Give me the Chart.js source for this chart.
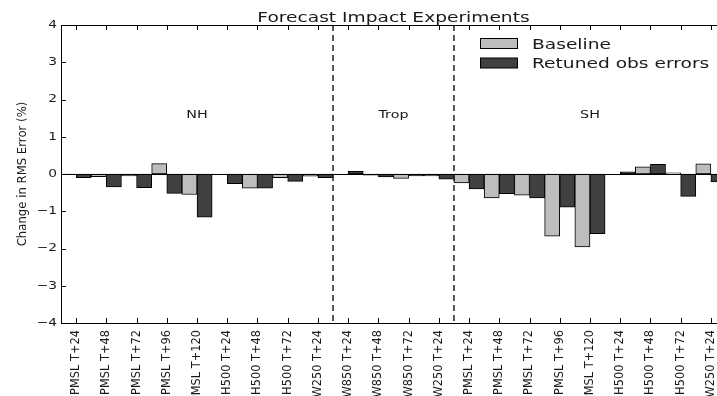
<!DOCTYPE html>
<html><head><meta charset="utf-8">
<script src="https://cdn.jsdelivr.net/npm/chart.js@4.4.0/dist/chart.umd.min.js"></script>
<style>
html,body{margin:0;padding:0;overflow:hidden;background:#fff;width:717px;height:396px}
#wrap{width:740px;height:396px;position:relative}
</style></head>
<body><div id="wrap"><canvas id="c" width="740" height="396"></canvas></div>
<script>
const categories = ['PMSL T+24','PMSL T+48','PMSL T+72','PMSL T+96','PMSL T+120','H500 T+24','H500 T+48','H500 T+72','W250 T+24',
  'W850 T+24','W850 T+48','W850 T+72','W250 T+24',
  'PMSL T+24','PMSL T+48','PMSL T+72','PMSL T+96','PMSL T+120','H500 T+24','H500 T+48','H500 T+72','W250 T+24'];
const baseline = [-0.02,-0.07,-0.05,0.28,-0.55,-0.01,-0.38,-0.10,-0.06,
  -0.01,-0.03,-0.12,-0.05,
  -0.24,-0.64,-0.57,-1.67,-1.96,0.00,0.19,0.03,0.27];
const retuned = [-0.10,-0.35,-0.37,-0.52,-1.16,-0.26,-0.38,-0.20,-0.10,
  0.07,-0.08,-0.05,-0.14,
  -0.40,-0.53,-0.64,-0.89,-1.60,0.06,0.26,-0.60,-0.21];
const seriesNames = ['Baseline','Retuned obs errors'];
const yMin = -4, yMax = 4, yStep = 1;
const regionLabels = ['NH','Trop','SH'];
const regionAt = [[4],[10,11],[17]];
const regionY = 1.5;
const dividers = [[8,9],[12,13]];
const titleText = 'Forecast Impact Experiments';
const yTitle = 'Change in RMS Error (%)';

const LIGHT = '#bdbdbd', DARK = '#404040', INK = '#1a1a1a';
const FONT = '"DejaVu Sans", sans-serif';

function sText(ctx, text, x, y, align, sx, size){
  ctx.save();
  ctx.font = size + 'px ' + FONT;
  ctx.fillStyle = INK;
  ctx.textBaseline = 'alphabetic';
  ctx.translate(x, y); ctx.scale(sx, 1);
  ctx.textAlign = align;
  ctx.fillText(text, 0, 0);
  ctx.restore();
}

const deco = {
  id: 'deco',
  beforeDraw(chart){
    const ys = chart.scales.y;
    if (!ys._stretched){
      const orig = ys.drawLabels;
      ys.drawLabels = function(area){
        const ctx = this.ctx;
        const x0 = this.right - this.options.ticks.padding;
        ctx.save(); ctx.translate(x0,0); ctx.scale(1.25,1); ctx.translate(-x0,0);
        orig.call(this, area);
        ctx.restore();
      };
      ys._stretched = true;
    }
  },
  afterDatasetsDraw(chart){
    const {ctx, chartArea:a, scales:{x, y}} = chart;
    ctx.save();
    ctx.strokeStyle = '#000'; ctx.lineWidth = 1;
    const y0 = Math.round(y.getPixelForValue(0)) + 0.5;
    ctx.beginPath(); ctx.moveTo(a.left, y0); ctx.lineTo(a.right, y0); ctx.stroke();
    ctx.setLineDash([6,4]); ctx.lineWidth = 1.5; ctx.strokeStyle = '#222';
    dividers.forEach(([i,j])=>{
      const px = (x.getPixelForValue(i) + x.getPixelForValue(j))/2;
      ctx.beginPath(); ctx.moveTo(px, a.top); ctx.lineTo(px, a.bottom); ctx.stroke();
    });
    ctx.setLineDash([]);
    ctx.lineWidth = 1; ctx.strokeStyle = '#000';
    ctx.strokeRect(Math.round(a.left)+0.5, Math.round(a.top)+0.5, Math.round(a.right-a.left), Math.round(a.bottom-a.top));
    ctx.beginPath();
    y.ticks.forEach(t=>{
      const py = Math.round(y.getPixelForValue(t.value))+0.5;
      ctx.moveTo(a.left, py); ctx.lineTo(a.left+5, py);
      ctx.moveTo(a.right, py); ctx.lineTo(a.right-5, py);
    });
    categories.forEach((c,i)=>{
      const px = Math.round(x.getPixelForValue(i))+0.5;
      ctx.moveTo(px, a.top); ctx.lineTo(px, a.top+5);
      ctx.moveTo(px, a.bottom); ctx.lineTo(px, a.bottom-5);
    });
    ctx.stroke();
    ctx.restore();
    regionLabels.forEach((lab,k)=>{
      const idx = regionAt[k];
      const px = idx.reduce((s,i)=>s+x.getPixelForValue(i),0)/idx.length;
      sText(ctx, lab, px, y.getPixelForValue(regionY), 'center', 1.3, 11);
    });
    sText(ctx, titleText, (a.left+a.right)/2, 21.5, 'center', 1.33, 14);
    const cols = [LIGHT, DARK];
    seriesNames.forEach((n,k)=>{
      const ty = 38.5 + k*19.5;
      ctx.save();
      ctx.fillStyle = cols[k]; ctx.fillRect(480.5, ty, 37, 10);
      ctx.strokeStyle = '#000'; ctx.lineWidth = 1; ctx.strokeRect(480.5, ty, 37, 10);
      ctx.restore();
      sText(ctx, n, 532, ty + 10, 'left', 1.33, 14);
    });
  }
};

new Chart(document.getElementById('c'), {
  type: 'bar',
  data: {
    labels: categories,
    datasets: [
      {label: seriesNames[0], data: baseline, backgroundColor: LIGHT, borderColor: '#000', borderWidth: 1, borderSkipped: false, barPercentage: 1, categoryPercentage: 1},
      {label: seriesNames[1], data: retuned, backgroundColor: DARK, borderColor: '#000', borderWidth: 1, borderSkipped: false, barPercentage: 1, categoryPercentage: 1}
    ]
  },
  options: {
    responsive: false,
    animation: false,
    layout: {padding: {top: 25, right: 14, left: 0, bottom: 0}},
    plugins: {legend: {display: false}, title: {display: false}, tooltip: {enabled: false}},
    scales: {
      x: {
        grid: {display: false, drawTicks: false},
        border: {display: false},
        ticks: {autoSkip: false, minRotation: 90, maxRotation: 90, padding: 7, color: INK, font: {family: FONT, size: 11.4}},
        afterFit(s){ s.height = 73; }
      },
      y: {
        min: yMin, max: yMax,
        grid: {display: false, drawTicks: false},
        border: {display: false},
        ticks: {stepSize: yStep, padding: 4, color: INK, font: {family: FONT, size: 11},
          callback: v => String(v).replace('-', '\u2212')},
        title: {display: true, text: yTitle, color: INK, font: {family: FONT, size: 11.7}, padding: {top: 16, bottom: 0}},
        afterFit(s){ s.width = 61; }
      }
    }
  },
  plugins: [deco]
});
</script>
</body></html>
